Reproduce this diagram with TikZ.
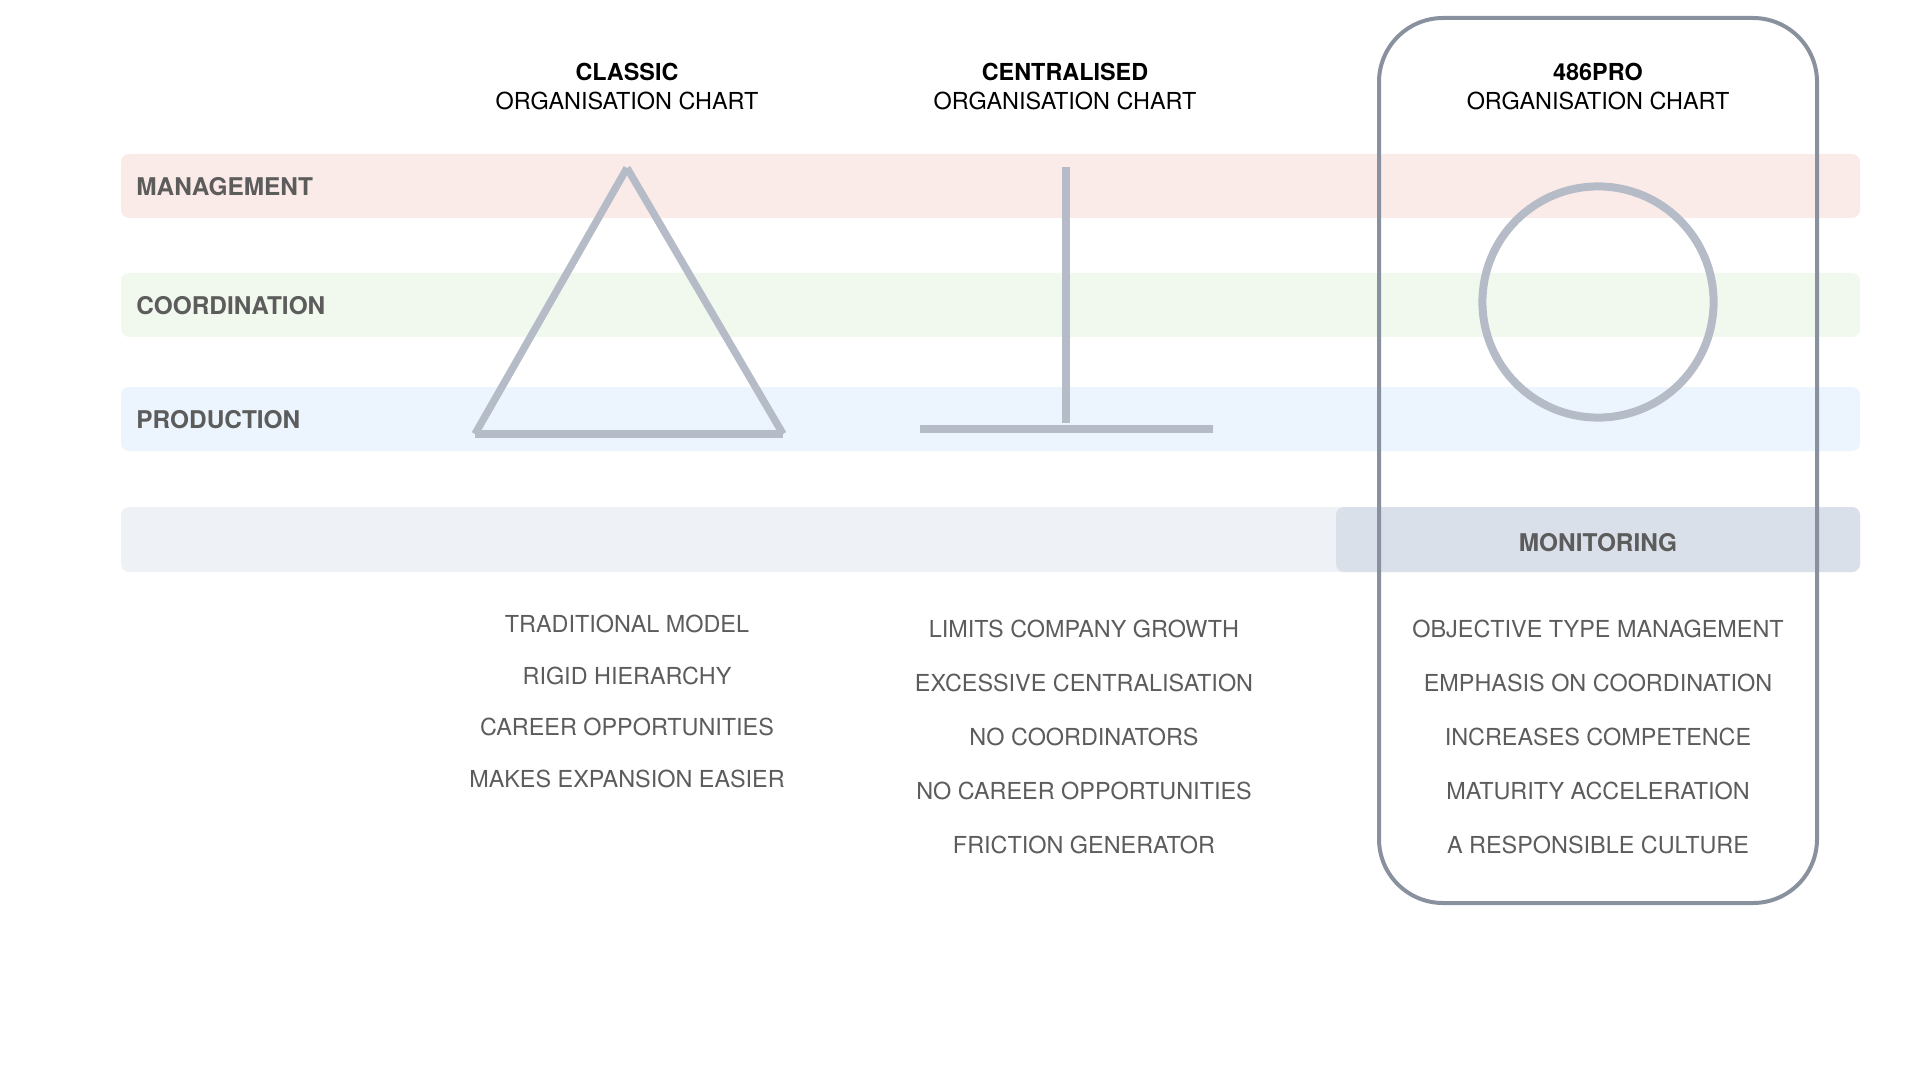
\documentclass[tikz,border=0pt]{standalone}
\usepackage{fontspec}
\setmainfont{TeX Gyre Heros}
\usepackage{tikz}
\usetikzlibrary{positioning}
\definecolor{bandmg}{RGB}{251,235,232}
\definecolor{bandco}{RGB}{241,248,238}
\definecolor{bandpr}{RGB}{236,244,253}
\definecolor{bandmo}{RGB}{238,241,246}
\definecolor{bandmodark}{RGB}{218,224,233}
\definecolor{shapec}{RGB}{181,188,199}
\definecolor{framec}{RGB}{138,145,158}
\definecolor{txtc}{RGB}{92,92,92}

\begin{document}
\begin{tikzpicture}[x=0.5pt,y=-0.5pt,
  band/.style={rounded corners=4pt},
  rowlbl/.style={anchor=west,font=\bfseries\fontsize{12.2}{14}\selectfont,text=txtc,inner sep=0pt},
  head/.style={align=center,font=\fontsize{11.7}{14.5}\selectfont,inner sep=0pt},
  item/.style={font=\fontsize{11.7}{14}\selectfont,text=txtc,inner sep=0pt},
  org/.style={draw=shapec,line width=3.7pt}]
  \useasboundingbox (0,0) rectangle (1920,1080);
  % bands
  \fill[band,bandmg] (121,154) rectangle (1860,218);
  \fill[band,bandco] (121,273) rectangle (1860,337);
  \fill[band,bandpr] (121,387) rectangle (1860,451);
  \fill[band,bandmo] (121,507) rectangle (1860,572);
  \fill[band,bandmodark] (1336,507) rectangle (1860,572);
  \node[rowlbl] (mgmt) at (136,187) {MANAGEMENT};
  \node[rowlbl] (coord) at (136,306) {COORDINATION};
  \node[rowlbl] (prod) at (136,420) {PRODUCTION};
  \node[rowlbl,anchor=center] (monit) at (1598,543) {MONITORING};
  % headers
  \node[head] (classic) at (627,87) {\textbf{CLASSIC}\\ORGANISATION CHART};
  \node[head] (central) at (1065,87) {\textbf{CENTRALISED}\\ORGANISATION CHART};
  \node[head] (pro) at (1598,87) {\textbf{486PRO}\\ORGANISATION CHART};
  % classic: triangle
  \coordinate (T0) at (627,168);
  \coordinate (T1) at (475,434);
  \coordinate (T2) at (783,434);
  \draw[org] (T0) -- (T1);
  \draw[org] (T0) -- (T2);
  \draw[org] (T1) -- (T2);
  % centralised: T
  \coordinate (C0) at (1066,167);
  \coordinate (C1) at (1066,423);
  \draw[org,line width=4.2pt] (C0) -- (C1);
  \draw[org,line width=4.2pt] (920,429) coordinate (C2) -- (1213,429) coordinate (C3);
  % 486pro: circle
  \coordinate (P0) at (1598,302);
  \draw[org,line width=4pt] (P0) circle [radius=57.8pt];
  % frame round the 486pro column
  \draw[framec,line width=2pt,rounded corners=32pt] (1379,18) rectangle (1817,903);
  % lists
  \foreach \t [count=\i from 0] in {TRADITIONAL MODEL,RIGID HIERARCHY,CAREER OPPORTUNITIES,MAKES EXPANSION EASIER}
    \node[item] (cl\i) at (627,{624+51.7*\i}) {\t};
  \foreach \t [count=\i from 0] in {LIMITS COMPANY GROWTH,EXCESSIVE CENTRALISATION,NO COORDINATORS,NO CAREER OPPORTUNITIES,FRICTION GENERATOR}
    \node[item] (ce\i) at (1084,{629+54*\i}) {\t};
  \foreach \t [count=\i from 0] in {OBJECTIVE TYPE MANAGEMENT,EMPHASIS ON COORDINATION,INCREASES COMPETENCE,MATURITY ACCELERATION,A RESPONSIBLE CULTURE}
    \node[item] (pr\i) at (1598,{629+54*\i}) {\t};
\end{tikzpicture}
\end{document}
